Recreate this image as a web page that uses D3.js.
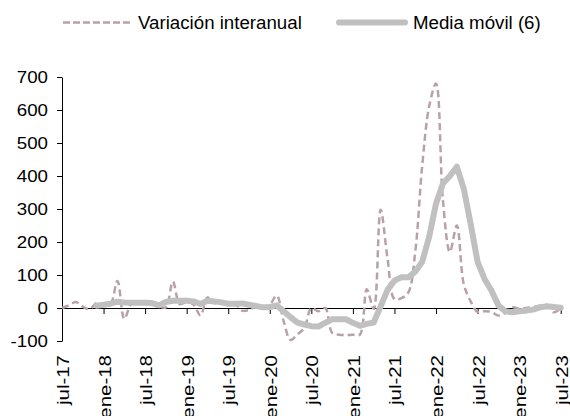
<!DOCTYPE html>
<html>
<head>
<meta charset="utf-8">
<script src="https://cdn.jsdelivr.net/npm/d3@7"></script>
<style>
  body { margin: 0; background: #fff; }
  svg { display: block; font-family: "Liberation Sans", Arial, sans-serif; }
</style>
</head>
<body>
<svg id="chart" width="570" height="416"></svg>
<script>
// months jul-17 .. jul-23
var months = ["jul-17","ago-17","sep-17","oct-17","nov-17","dic-17",
  "ene-18","feb-18","mar-18","abr-18","may-18","jun-18","jul-18","ago-18","sep-18","oct-18","nov-18","dic-18",
  "ene-19","feb-19","mar-19","abr-19","may-19","jun-19","jul-19","ago-19","sep-19","oct-19","nov-19","dic-19",
  "ene-20","feb-20","mar-20","abr-20","may-20","jun-20","jul-20","ago-20","sep-20","oct-20","nov-20","dic-20",
  "ene-21","feb-21","mar-21","abr-21","may-21","jun-21","jul-21","ago-21","sep-21","oct-21","nov-21","dic-21",
  "ene-22","feb-22","mar-22","abr-22","may-22","jun-22","jul-22","ago-22","sep-22","oct-22","nov-22","dic-22",
  "ene-23","feb-23","mar-23","abr-23","may-23","jun-23","jul-23"];

var variacion = [0, 8, 18, 4, -3, 15,
  8, 12, 82, -33, 12, 15, 18, 14, 5, 2, 80, 12,
  18, 10, -23, 32, 15, 18, 10, 12, -8, -6, 5, 2,
  10, 38, -40, -97, -80, -60, 0, -10, 0, -75, -81, -82,
  -81, -81, 57, -3, 298, 150, 27, 30, 47, 170, 430, 610,
  680, 325, 170, 250, 73, 20, -12, -10, -12, -23, -15, 2,
  -2, 0, 3, 7, 9, -13, -2];

var mediaMovil = [null, null, null, null, null, 7,
  10, 13, 19, 17, 16, 16, 16, 15, 8, 18, 22, 22,
  22, 20, 12, 22, 20, 17, 13, 13, 14, 10, 6, 2,
  3, 8, -10, -28, -44, -50, -55, -56, -45, -34, -34, -34,
  -45, -54, -48, -44, 5, 55, 83, 93, 93, 110, 140, 215,
  316, 377, 400, 428, 362, 255, 140, 88, 53, 8, -10, -13,
  -10, -8, -5, 2, 5, 3, 1];

var xTickLabels = ["jul-17","ene-18","jul-18","ene-19","jul-19","ene-20","jul-20",
  "ene-21","jul-21","ene-22","jul-22","ene-23","jul-23"];
var yTicks = [-100, 0, 100, 200, 300, 400, 500, 600, 700];

var dashColor = "#b9a1aa";
var avgColor = "#c0c0c0";

var svg = d3.select("#chart");

var x = d3.scalePoint().domain(months).range([62, 560.7]);
var y = d3.scaleLinear().domain([-100, 700]).range([341, 77]);

// y axis
var yAxis = svg.append("g")
    .attr("transform", "translate(62,0)")
    .call(d3.axisLeft(y).tickValues(yTicks).tickSize(5).tickSizeOuter(0).tickPadding(9)
        .tickFormat(function (d) { return String(d); }));
yAxis.selectAll("text")
    .attr("font-size", 16)
    .attr("fill", "#000")
    .attr("font-family", "Liberation Sans, Arial, sans-serif")
    .attr("transform", function () {
        var xx = +d3.select(this).attr("x");
        return "translate(" + (-xx * 0.17) + ",0) scale(1.17,1)";
    });
yAxis.selectAll("line, path").attr("stroke", "#000");

// x axis on zero line
var xAxis = svg.append("g")
    .attr("transform", "translate(0," + y(0) + ")")
    .call(d3.axisBottom(x).tickValues(xTickLabels).tickSize(6).tickSizeOuter(0).tickFormat(""));
xAxis.selectAll("line, path").attr("stroke", "#000");

// rotated x labels
svg.append("g").selectAll("text")
    .data(xTickLabels)
    .enter()
    .append("text")
    .attr("transform", function (d) { return "translate(" + (x(d) + 7) + ",355) rotate(-90) scale(1.28,1)"; })
    .attr("text-anchor", "end")
    .attr("font-size", 16)
    .attr("fill", "#000")
    .text(function (d) { return d; });

// series
var dashedLine = d3.line()
    .x(function (d, i) { return x(months[i]); })
    .y(function (d) { return y(d); })
    .curve(d3.curveCatmullRom.alpha(0.5));

var avgLine = d3.line()
    .defined(function (d) { return d !== null; })
    .x(function (d, i) { return x(months[i]); })
    .y(function (d) { return y(d); });

svg.append("path")
    .datum(variacion)
    .attr("d", dashedLine)
    .attr("fill", "none")
    .attr("stroke", dashColor)
    .attr("stroke-width", 2.5)
    .attr("stroke-dasharray", "7,4");

svg.append("path")
    .datum(mediaMovil)
    .attr("d", avgLine)
    .attr("fill", "none")
    .attr("stroke", avgColor)
    .attr("stroke-width", 6)
    .attr("stroke-linejoin", "round")
    .attr("stroke-linecap", "round");

// legend
var legend = svg.append("g");
legend.append("line")
    .attr("x1", 63).attr("x2", 130).attr("y1", 22.5).attr("y2", 22.5)
    .attr("stroke", dashColor).attr("stroke-width", 2.5).attr("stroke-dasharray", "7,3");
legend.append("text")
    .attr("x", 138).attr("y", 29)
    .attr("font-size", 18.7)
    .attr("fill", "#000")
    .text("Variación interanual");
legend.append("line")
    .attr("x1", 339).attr("x2", 405).attr("y1", 22.5).attr("y2", 22.5)
    .attr("stroke", avgColor).attr("stroke-width", 6).attr("stroke-linecap", "round");
legend.append("text")
    .attr("x", 413).attr("y", 29)
    .attr("font-size", 18.7)
    .attr("fill", "#000")
    .text("Media móvil (6)");
</script>
</body>
</html>
